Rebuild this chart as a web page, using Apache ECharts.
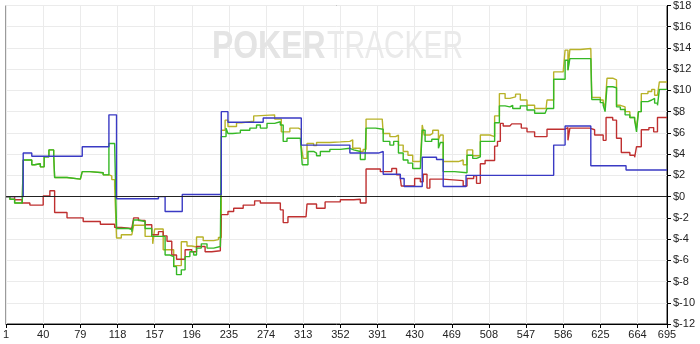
<!DOCTYPE html>
<html><head><meta charset="utf-8">
<script src="https://cdn.jsdelivr.net/npm/echarts@6/dist/echarts.min.js"></script>
<style>html,body{margin:0;padding:0;background:#fff}#c{width:700px;height:344px}</style>
</head><body><div id="c"></div>
<script>
// x tick labels (hand numbers) and y range
var xTickStart = 1, xTickStep = 39, xLastHand = 695;
var yMin = -12, yMax = 18, yStep = 2;

// series: [hand, cumulative $]
var yellowSeries = [[1,0],[5,-0.25],[10,-0.6],[18,-0.7],[19,3.45],[28,3.0],[31,3.1],[37,2.8],[41,3.75],[46,4.4],[51,3.9],[52,1.8],[65,1.65],[79,1.5],[81,2.35],[89,2.25],[103,2.05],[109,1.95],[112,1.6],[115,1.0],[117,-3.9],[122,-3.6],[133,-3.75],[135,-2.7],[147,-3.75],[155,-4.45],[157,-3.05],[166,-5.0],[177,-6.5],[185,-4.25],[191,-4.65],[196,-4.75],[201,-3.8],[208,-4.15],[219,-4.05],[224,-3.85],[227,6.25],[231,7.2],[234,6.6],[243,6.95],[248,7.1],[261,7.6],[264,7.65],[273,7.7],[283,7.3],[290,6.1],[299,6.45],[308,6.3],[311,4.7],[313,3.6],[317,5.0],[324,4.8],[327,5.1],[341,5.15],[352,5.2],[362,5.35],[365,4.55],[373,4.25],[376,4.45],[379,7.3],[396,7.2],[397,5.95],[404,5.65],[410,5.8],[413,4.85],[418,4.25],[423,3.9],[428,3.3],[436,3.15],[438,6.75],[440,5.8],[446,5.95],[449,6.25],[455,5.35],[457,5.8],[460,3.3],[476,3.45],[481,3.0],[485,4.4],[491,3.85],[499,5.8],[509,5.65],[514,7.6],[519,9.7],[525,9.25],[530,9.4],[536,9.65],[541,9.1],[548,8.6],[556,8.3],[568,8.45],[569,9.1],[576,11.75],[586,11.6],[588,13.8],[591,11.9],[593,13.85],[604,13.95],[615,13.85],[616,9.35],[625,9.1],[628,8.85],[630,8.45],[632,11.15],[638,11.0],[642,8.6],[646,8.45],[651,8.0],[656,7.45],[661,7.2],[663,6.5],[665,8.0],[668,9.7],[675,9.9],[679,10.1],[682,9.55],[685,9.4],[687,10.8],[695,10.85]];

var greenSeries = [[1,0],[5,-0.25],[10,-0.6],[18,-0.7],[19,3.45],[28,3.0],[31,3.1],[37,2.8],[41,3.75],[46,4.4],[51,3.9],[52,1.8],[65,1.65],[79,1.5],[81,2.35],[89,2.25],[103,2.05],[109,5.0],[115,4.85],[117,-3.0],[129,-3.1],[133,-3.3],[135,-2.2],[140,-2.35],[147,-3.0],[154,-3.75],[168,-5.5],[173,-5.65],[177,-6.6],[180,-7.35],[185,-6.9],[189,-5.65],[194,-5.2],[198,-5.5],[201,-4.85],[206,-4.45],[212,-4.85],[219,-4.7],[226,-4.65],[227,5.65],[232,6.45],[234,5.95],[239,6.0],[247,6.25],[257,6.45],[264,6.75],[268,6.45],[275,6.9],[283,7.05],[289,6.75],[292,5.2],[296,5.5],[310,5.65],[312,3.0],[318,4.25],[324,4.1],[327,3.85],[331,4.25],[341,4.45],[352,4.55],[362,4.4],[366,4.25],[373,3.5],[378,3.7],[379,6.45],[389,6.35],[397,5.2],[404,4.85],[408,5.2],[413,4.1],[418,3.45],[423,3.15],[428,2.65],[436,2.75],[438,6.25],[441,5.2],[448,5.4],[455,4.55],[457,5.1],[460,2.35],[472,2.25],[485,3.9],[491,3.6],[495,3.75],[499,5.2],[514,6.95],[519,8.55],[525,8.45],[530,8.6],[533,8.3],[541,8.55],[548,8.15],[556,7.85],[567,7.8],[569,8.3],[576,11.05],[588,12.85],[591,11.9],[593,13.0],[615,12.9],[616,9.15],[625,8.85],[628,8.6],[630,8.0],[632,10.35],[638,10.25],[642,8.45],[646,8.2],[651,7.7],[656,7.45],[661,7.2],[663,6.1],[665,8.0],[668,8.95],[675,9.1],[679,9.25],[682,8.8],[685,8.6],[687,10.1],[695,10.1]];

var redSeries = [[1,0],[10,-0.3],[18,-0.6],[26,-0.8],[40,0.05],[47,0.55],[52,-1.5],[65,-2.0],[82,-2.35],[100,-2.6],[115,-2.9],[122,-3.0],[133,-3.1],[135,-2.0],[140,-2.25],[147,-2.65],[154,-3.6],[161,-3.3],[166,-3.7],[170,-4.2],[175,-5.5],[180,-5.9],[189,-5.0],[196,-5.2],[201,-4.7],[210,-5.2],[217,-5.1],[226,-4.85],[227,-1.7],[234,-1.4],[240,-1.1],[250,-0.8],[262,-0.4],[268,-0.6],[289,-1.25],[292,-2.45],[297,-1.9],[316,-2.05],[317,-0.7],[327,-1.1],[336,-0.5],[352,-0.3],[366,-0.25],[373,-0.6],[379,2.6],[394,2.35],[406,2.65],[411,2.05],[415,1.7],[416,1.0],[430,1.7],[436,1.4],[439,2.1],[443,0.8],[446,1.65],[460,1.5],[481,1.0],[485,1.7],[492,1.95],[495,1.25],[499,3.1],[504,3.4],[514,4.75],[517,5.2],[520,6.9],[523,6.65],[530,6.5],[532,6.85],[542,6.45],[548,6.1],[556,5.65],[569,6.35],[588,6.5],[591,5.3],[593,6.45],[614,6.3],[619,5.8],[628,5.3],[631,7.45],[638,7.2],[642,5.5],[647,4.15],[656,3.9],[661,3.7],[663,4.7],[668,6.3],[676,6.5],[681,6.1],[685,7.45],[695,7.45]];

var blueSeries = [[1,0],[19,4.1],[28,3.8],[81,4.7],[109,7.7],[117,-0.2],[161,0],[168,-1.4],[186,0.2],[227,8.0],[234,7.0],[271,7.4],[311,4.85],[362,4.1],[392,4.25],[397,2.1],[415,1.7],[419,0.95],[438,3.7],[453,3.5],[460,0.95],[484,2.0],[576,4.85],[588,6.65],[615,2.9],[652,2.5],[695,2.5]];

var seriesColors = {yellow:'#b8b228', green:'#35b825', red:'#bf3030', blue:'#3a3ac4'};

function toAxis(arr){ return arr.map(function(p){ return [p[0]-xTickStart, p[1]]; }); }
function mkLine(name, arr, color){
  return {name:name, type:'line', step:'end', data:toAxis(arr), showSymbol:false, symbol:'none', z:3,
    lineStyle:{color:color, width:1.4}, itemStyle:{color:color}, animation:false, silent:true};
}
var chart = echarts.init(document.getElementById('c'), null, {renderer:'canvas'});
var fontFam = '"Liberation Sans", Arial, sans-serif';
chart.setOption({
  animation:false,
  backgroundColor:'#fff',
  grid:{left:6, right:33, top:5, bottom:20, show:true, borderColor:'#222', borderWidth:1},
  graphic:[
    {type:'text', x:212, y:29, z:1, silent:true, scaleX:0.84,
      style:{text:'POKER', font:'bold 38px '+fontFam, fill:'#e4e4e4'}},
    {type:'text', x:327, y:29, z:1, silent:true, scaleX:0.75,
      style:{text:'TRACKER', font:'38px '+fontFam, fill:'#eaeaea'}}
  ],
  xAxis:{type:'value', min:0, max:xLastHand-xTickStart, interval:xTickStep,
    axisLine:{onZero:false, lineStyle:{color:'#000', width:1}},
    axisTick:{show:true, inside:false, length:4, lineStyle:{color:'#000'}},
    axisLabel:{formatter:function(v){return String(v+xTickStart);}, color:'#222', fontSize:11, fontFamily:fontFam, margin:5, showMaxLabel:true, showMinLabel:true},
    splitLine:{show:true, lineStyle:{color:'#ebebeb', width:1}}},
  yAxis:{type:'value', position:'right', min:yMin, max:yMax, interval:yStep,
    axisLine:{show:true, onZero:false, lineStyle:{color:'#000', width:1}},
    axisTick:{show:true, inside:false, length:4, lineStyle:{color:'#000'}},
    axisLabel:{formatter:function(v){return '$'+v;}, color:'#222', fontSize:11, fontFamily:fontFam, margin:6},
    splitLine:{show:true, lineStyle:{color:'#ebebeb', width:1}}},
  series:[
    {type:'line', data:[], silent:true, animation:false, z:2,
      markLine:{silent:true, symbol:'none', animation:false, label:{show:false},
        lineStyle:{color:'#222', type:'solid', width:1}, data:[{yAxis:0}]}},
    mkLine('Yellow', yellowSeries, seriesColors.yellow),
    mkLine('Red', redSeries, seriesColors.red),
    mkLine('Green', greenSeries, seriesColors.green),
    mkLine('Blue', blueSeries, seriesColors.blue)
  ]
});
</script></body></html>
